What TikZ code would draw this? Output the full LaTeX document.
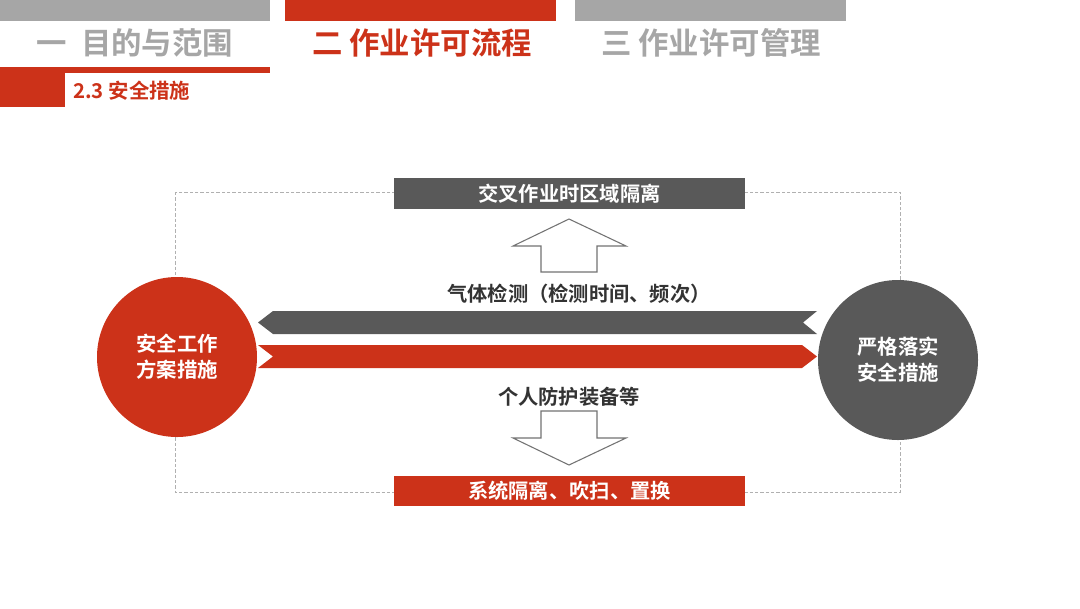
\documentclass[tikz,border=0pt]{standalone}
\usepackage{fontspec}
\setmainfont{Noto Sans CJK SC}[BoldFont={* Bold}]
\definecolor{mred}{HTML}{CC3219}
\definecolor{mdark}{HTML}{595959}
\definecolor{mgray}{HTML}{A6A6A6}
\definecolor{mline}{HTML}{B0B0B0}
\tikzset{
  title/.style={font=\bfseries\fontsize{22.8}{26}\selectfont, inner sep=0pt, anchor=center},
  band/.style={fill=#1, draw=none, text=white, font=\bfseries\fontsize{15.2}{18}\selectfont, minimum width=263.25pt, minimum height=23pt, inner sep=0pt},
  label/.style={text=black!80, font=\bfseries\fontsize{15.2}{18}\selectfont, inner sep=0pt},
  disc/.style={circle, fill=#1, draw=none, text=white, minimum size=120pt, inner sep=0pt, align=center, font=\bfseries\fontsize{15.3}{19.5}\selectfont},
  hollow/.style={draw=black!55, line width=0.8pt, fill=white},
}
\begin{document}
\begin{tikzpicture}[x=0.75pt,y=-0.75pt]
\useasboundingbox (0,0) rectangle (1080,608);
\fill[white] (0,0) rectangle (1080,608);
% top tabs
\fill[mgray] (0,0) rectangle (270,21);
\fill[mred] (285,0) rectangle (556,21);
\fill[mgray] (575,0) rectangle (846,21);
\node[title, text=mgray] (t1) at (135,43) {一\ \ 目的与范围};
\node[title, text=mred] (t2) at (422,43) {二 作业许可流程};
\node[title, text=mgray] (t3) at (711,43) {三 作业许可管理};
% section marker
\fill[mred] (0,67) rectangle (270,73);
\fill[mred] (0,73) rectangle (65,107);
\node[anchor=west, inner sep=0pt, text=mred, font=\bfseries\fontsize{15.3}{18}\selectfont] (sec) at (73,91) {2.3 安全措施};
% dashed frame
\draw[mline, line width=0.6pt, dash pattern=on 2.5pt off 1.5pt] (175,192) rectangle (900,492);
% bands
\node[band=mdark] (top) at (569.5,193.5) {交叉作业时区域隔离};
\node[band=mred] (bot) at (569.5,491) {系统隔离、吹扫、置换};
% hollow arrows
\draw[hollow] (569,219) -- (626,246) -- (597,246) -- (597,272) -- (541,272) -- (541,246) -- (513,246) -- cycle;
\draw[hollow] (569,465) -- (626,438) -- (597,438) -- (597,411) -- (541,411) -- (541,438) -- (513,438) -- cycle;
% circles
\node[disc=mred] (L) at (177,357) {安全工作\\方案措施};
\node[disc=mdark] (R) at (898,360) {严格落实\\安全措施};
% band arrows
\fill[mdark] (258,322.5) -- (273,311) -- (817,311) -- (803,322.5) -- (817,334) -- (273,334) -- cycle;
\fill[mred] (258,345) -- (802,345) -- (817,356.5) -- (802,368) -- (258,368) -- (273,356.5) -- cycle;
% labels
\node[label] (gas) at (579,294) {气体检测（检测时间、频次）};
\node[label] (ppe) at (569,397) {个人防护装备等};
\end{tikzpicture}
\end{document}
